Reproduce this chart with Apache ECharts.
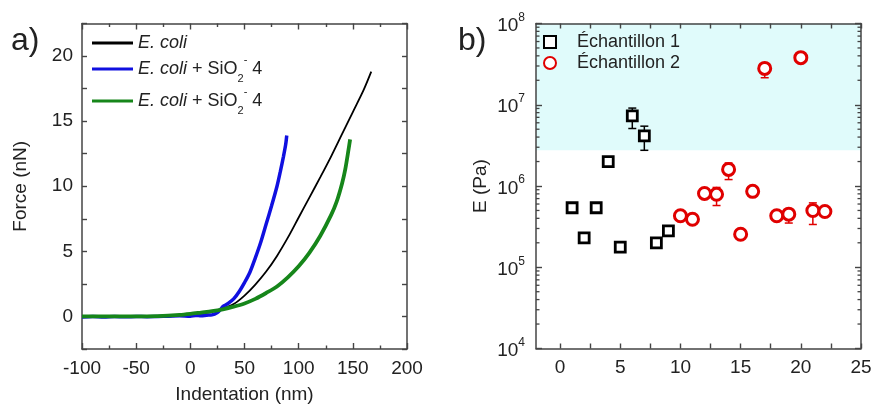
<!DOCTYPE html>
<html><head><meta charset="utf-8">
<script src="https://cdn.jsdelivr.net/npm/echarts@6/dist/echarts.min.js"></script>
<style>html,body{margin:0;padding:0;background:#fff}#c{width:871px;height:406px}</style>
</head><body><div id="c"></div>
<script>
// ---- Panel a data: indentation (nm) vs force (nN)
const blackX = [-100,-75,-50,-30,-15,0,10,20,30,40,50,60,70,80,90,100,110,120,130,140,150,160,167];
const blackY = [0,0,0,0.02,0.06,0.12,0.22,0.38,0.6,0.95,1.6,2.45,3.45,4.65,6.05,7.6,9.15,10.7,12.3,14.0,15.7,17.4,18.8];
const blueX = [-100,-90,-80,-70,-60,-50,-40,-30,-20,-10,0,5,10,15,20,25,28,30,33,35,40,45,50,55,60,65,70,75,80,83,86,88,89];
const blueY = [-0.05,0,-0.05,0,-0.03,0,-0.02,0,0.02,0.05,0.02,0.08,0.05,0.1,0.12,0.3,0.55,0.75,0.9,1.0,1.35,1.9,2.6,3.4,4.5,5.7,7.1,8.5,10.0,11.1,12.3,13.2,13.9];
const greenX = [-100,-75,-50,-30,-10,0,10,20,30,40,50,60,70,80,90,100,110,120,130,135,140,143,146,147.5];
const greenY = [0,0,0,0.03,0.12,0.2,0.3,0.4,0.55,0.75,1.0,1.35,1.8,2.3,3.0,3.85,4.9,6.2,7.8,8.8,10.2,11.3,12.8,13.6];
const yTicksA = [0,5,10,15,20];
const yTicksAll = [-2.5,0,2.5,5,7.5,10,12.5,15,17.5,20,22.5];

// ---- Panel b data: sample index vs E (Pa)
const s1X = [1,2,3,4,5,6,7,8,9];
const s1E = [5.4e5,2.3e5,5.4e5,2.0e6,1.77e5,7.3e6,4.15e6,2.0e5,2.8e5];
const s1Lo = [null,null,null,null,null,5.1e6,2.75e6,null,null];
const s1Hi = [null,null,null,null,null,9.1e6,5.45e6,null,null];
const s2X = [10,11,12,13,14,15,16,17,18,19,20,21,22];
const s2E = [4.3e5,3.9e5,8.1e5,7.9e5,1.6e6,2.55e5,8.6e5,2.8e7,4.3e5,4.5e5,3.8e7,5.0e5,4.85e5];
const s2Lo = [null,null,null,5.75e5,1.2e6,null,null,2.15e7,null,3.5e5,null,3.36e5,null];
const s2Hi = [null,null,null,9.6e5,1.92e6,null,null,3.0e7,null,4.9e5,null,6.2e5,null];
const shadeLow = 2.75e6, shadeHigh = 1e8;
const xTicksB = [0,5,10,15,20,25];
const xTicksBAll = [0,2.5,5,7.5,10,12.5,15,17.5,20,22.5,25];
const logMinor = [];
[1e4,1e5,1e6,1e7].forEach(d => { for (let k = 2; k <= 9; k++) logMinor.push(k*d); });

const zip = (a,b) => a.map((v,i) => [v,b[i]]);
const FONT = '"Liberation Sans", Arial, sans-serif';
const TXT = '#222', AX = '#444';
const FS = 19;

function errItem(color){
  return function(params, api){
    const x = api.value(0), lo = api.value(1), hi = api.value(2);
    const p1 = api.coord([x, lo]), p2 = api.coord([x, hi]);
    const st = {stroke: color, lineWidth: 1.5};
    return {type:'group', children:[
      {type:'line', shape:{x1:p1[0],y1:p1[1],x2:p2[0],y2:p2[1]}, style:st},
      {type:'line', shape:{x1:p1[0]-4,y1:p1[1],x2:p1[0]+4,y2:p1[1]}, style:st},
      {type:'line', shape:{x1:p2[0]-4,y1:p2[1],x2:p2[0]+4,y2:p2[1]}, style:st}
    ]};
  };
}
function errData(xs, lo, hi){
  const out = [];
  xs.forEach((x,i) => { if (lo[i] != null) out.push([x, lo[i], hi[i]]); });
  return out;
}

const axLine = {show:true, onZero:false, lineStyle:{color:AX, width:1.5}};
const tickStyle = {color:AX, width:1.4};
function ax(extra){
  return Object.assign({
    axisLine: axLine,
    axisTick:{show:true, inside:true, length:6, lineStyle:tickStyle},
    minorTick:{show:false},
    splitLine:{show:false},
    axisLabel:{color:TXT, fontSize:FS, fontFamily:FONT, margin:10}
  }, extra);
}

const legendNames = {
  ecoli: '{i|E. coli}',
  sio2a: '{i|E. coli}{n| + SiO}{sub|2}{sup|-}{n| 4}',
  sio2b: '{i|E. coli}{n| + SiO}{sub|2}{sup|-}{n| 4}'
};

const option = {
  backgroundColor:'#fff',
  animation:false,
  textStyle:{fontFamily:FONT},
  grid:[
    {left:82, top:23.5, width:325, height:325.5, containLabel:false, outerBoundsMode:'none'},
    {left:536, top:23.5, width:325, height:325, containLabel:false, outerBoundsMode:'none'}
  ],
  xAxis:[
    ax({gridIndex:0, type:'value', min:-100, max:200, interval:50, position:'bottom',
      minorTick:{show:true, splitNumber:2, length:3.5, lineStyle:tickStyle},
      name:'Indentation (nm)', nameLocation:'middle', nameGap:36,
      nameTextStyle:{color:TXT, fontSize:FS, fontFamily:FONT}}),
    ax({gridIndex:0, type:'value', min:-100, max:200, interval:50, position:'top', axisLabel:{show:false},
      minorTick:{show:true, splitNumber:2, length:3.5, lineStyle:tickStyle}}),
    ax({gridIndex:1, type:'value', min:-2, max:25, position:'bottom',
      axisLabel:{color:TXT, fontSize:FS, fontFamily:FONT, margin:10, customValues: xTicksB},
      axisTick:{show:true, inside:true, length:5, lineStyle:tickStyle, customValues: xTicksBAll}}),
    ax({gridIndex:1, type:'value', min:-2, max:25, position:'top', axisLabel:{show:false},
      axisTick:{show:true, inside:true, length:5, lineStyle:tickStyle, customValues: xTicksBAll}})
  ],
  yAxis:[
    ax({gridIndex:0, type:'value', min:-2.5, max:22.5, position:'left',
      axisLabel:{color:TXT, fontSize:FS, fontFamily:FONT, margin:9, customValues:yTicksA},
      axisTick:{show:true, inside:true, length:5, lineStyle:tickStyle, customValues:yTicksAll},
      name:'Force (nN)', nameLocation:'middle', nameGap:52,
      nameTextStyle:{color:TXT, fontSize:FS, fontFamily:FONT}}),
    ax({gridIndex:0, type:'value', min:-2.5, max:22.5, position:'right', axisLabel:{show:false},
      axisTick:{show:true, inside:true, length:5, lineStyle:tickStyle, customValues:yTicksAll}}),
    {gridIndex:1, type:'log', logBase:10, min:1e4, max:1e8, position:'left',
      axisLine:axLine,
      axisTick:{show:true, inside:true, length:6, lineStyle:tickStyle},
      splitLine:{show:false},
      axisLabel:{margin:11, formatter: v => '{b|10}{s|' + Math.round(Math.log10(v)) + '}',
        rich:{b:{fontSize:FS, color:TXT, fontFamily:FONT, lineHeight:24, verticalAlign:'bottom'},
              s:{fontSize:12, color:TXT, fontFamily:FONT, lineHeight:24, verticalAlign:'top'}}},
      name:'E (Pa)', nameLocation:'middle', nameGap:46,
      nameTextStyle:{color:TXT, fontSize:FS, fontFamily:FONT}},
    {gridIndex:1, type:'log', logBase:10, min:1e4, max:1e8, position:'right',
      axisLine:axLine,
      axisTick:{show:true, inside:true, length:6, lineStyle:tickStyle},
      splitLine:{show:false}, axisLabel:{show:false}}
  ],
  legend:[
    {left:87, top:29, orient:'vertical', itemWidth:41, itemHeight:3, itemGap:2, icon:'rect',
      data:['ecoli','sio2a','sio2b'],
      formatter: n => legendNames[n],
      textStyle:{color:TXT, fontSize:18, fontFamily:FONT,
        rich:{i:{fontStyle:'italic', fontSize:18, color:TXT, fontFamily:FONT, lineHeight:26},
              n:{fontSize:18, color:TXT, fontFamily:FONT, lineHeight:26},
              sub:{fontSize:11, color:TXT, fontFamily:FONT, lineHeight:22, verticalAlign:'bottom'},
              sup:{fontSize:11, color:TXT, fontFamily:FONT, lineHeight:30, verticalAlign:'top'}}}},
    {left:538, top:28, orient:'vertical', itemWidth:12, itemHeight:12, itemGap:3,
      data:['Échantillon 1','Échantillon 2'],
      textStyle:{color:TXT, fontSize:18, fontFamily:FONT, padding:[0,0,0,16]}}
  ],
  graphic:[
    {type:'text', left:11, top:25, style:{text:'a)', font:'32px ' + FONT, fill:TXT}},
    {type:'text', left:458, top:25, style:{text:'b)', font:'32px ' + FONT, fill:TXT}}
  ],
  series:[
    {name:'ecoli', type:'line', xAxisIndex:0, yAxisIndex:0, data:zip(blackX,blackY), showSymbol:false, smooth:0.3,
      lineStyle:{color:'#000', width:1.8}, itemStyle:{color:'#000'}, z:2},
    {name:'sio2a', type:'line', xAxisIndex:0, yAxisIndex:0, data:zip(blueX,blueY), showSymbol:false, smooth:0.3,
      lineStyle:{color:'#1010e0', width:3.5}, itemStyle:{color:'#1010e0'}, z:3},
    {name:'sio2b', type:'line', xAxisIndex:0, yAxisIndex:0, data:zip(greenX,greenY), showSymbol:false, smooth:0.3,
      lineStyle:{color:'#16861a', width:3.8}, itemStyle:{color:'#16861a'}, z:4},
    {type:'custom', xAxisIndex:2, yAxisIndex:2, data:errData(s1X,s1Lo,s1Hi), renderItem:errItem('#000'), z:3, encode:{x:0,y:[1,2]},
      markArea:{silent:true, z:0, itemStyle:{color:'#e0fbfb'},
        data:[[{coord:[-2, shadeLow]},{coord:[25, shadeHigh]}]]}},
    {type:'custom', xAxisIndex:2, yAxisIndex:2, data:errData(s2X,s2Lo,s2Hi), renderItem:errItem('#e00000'), z:3, encode:{x:0,y:[1,2]}},
    {type:'custom', xAxisIndex:2, yAxisIndex:2, clip:false, z:6, silent:true,
      data: logMinor.map(v => [0, v]),
      renderItem: function(params, api){
        const v = api.value(1);
        const pL = api.coord([-2, v]), pR = api.coord([25, v]);
        const st = {stroke:AX, lineWidth:1.3};
        return {type:'group', children:[
          {type:'line', shape:{x1:pL[0], y1:pL[1], x2:pL[0]+3.5, y2:pL[1]}, style:st},
          {type:'line', shape:{x1:pR[0], y1:pR[1], x2:pR[0]-3.5, y2:pR[1]}, style:st}
        ]};
      },
      encode:{x:0, y:1}},
    {name:'Échantillon 1', type:'scatter', xAxisIndex:2, yAxisIndex:2, data:zip(s1X,s1E), symbol:'rect', symbolSize:10,
      itemStyle:{color:'#fff', borderColor:'#000', borderWidth:2.8, opacity:1}, z:5},
    {name:'Échantillon 2', type:'scatter', xAxisIndex:2, yAxisIndex:2, data:zip(s2X,s2E), symbol:'circle', symbolSize:12,
      itemStyle:{color:'#fff', borderColor:'#e00000', borderWidth:3, opacity:1}, z:5}
  ]
};
const chart = echarts.init(document.getElementById('c'), null, {renderer:'canvas'});
chart.setOption(option);
</script></body></html>
